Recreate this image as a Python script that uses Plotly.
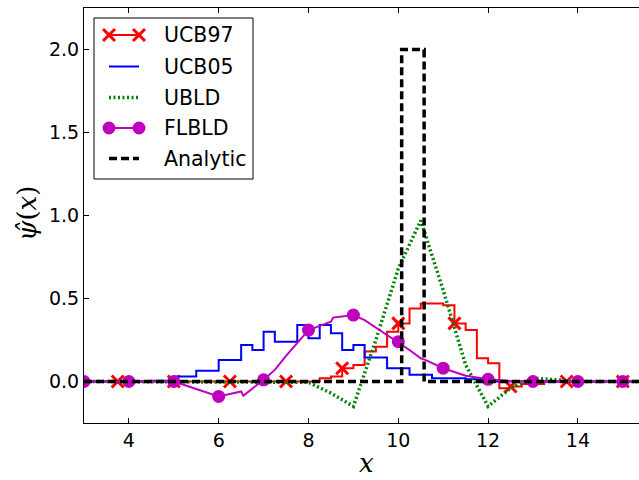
import numpy as np
import plotly.graph_objects as go

# Cell-centred grid (dx = 0.25) shared by the two step schemes
CELL_X = np.arange(3.0, 15.5001, 0.25)

UCB97 = [0.0, 0.0, 0.0, 0.0, 0.0, 0.0, 0.0, 0.0, 0.0, 0.0,
         0.0, 0.0, 0.0, 0.0, 0.0, 0.0, 0.0, 0.0, 0.0, 0.0,
         0.0, 0.02, 0.03, 0.08, 0.10, 0.18, 0.21, 0.30, 0.35, 0.44,
         0.47, 0.47, 0.46, 0.35, 0.31, 0.14, 0.11, -0.04, -0.03, -0.015,
         -0.015, 0.0, 0.0, 0.0, 0.0, 0.0, 0.0, 0.0, 0.0, 0.0, 0.0]

UCB05 = [0.0, 0.0, 0.0, 0.0, 0.0, 0.0, 0.005, 0.005, 0.03, 0.03,
         0.065, 0.065, 0.13, 0.13, 0.22, 0.19, 0.30, 0.24, 0.24, 0.34,
         0.26, 0.34, 0.29, 0.19, 0.22, 0.145, 0.145, 0.08, 0.08, 0.04,
         0.04, 0.02, 0.02, 0.02, 0.013, 0.013, 0.0, 0.0, 0.0, 0.0,
         0.0, 0.0, 0.0, 0.0, 0.0, 0.0, 0.0, 0.0, 0.0, 0.0, 0.0]

UCB97_MARK_EVERY = 5
UCB97_MARK_START = 3

UBLD_X = [3.0, 7.5, 8.0, 8.5, 9.0, 9.5, 10.0, 10.5, 11.0, 11.5,
          12.0, 12.5, 13.0, 13.5, 14.0, 15.5]
UBLD_Y = [0.0, 0.0, -0.005, -0.07, -0.15, 0.25, 0.68, 0.97, 0.55, 0.10,
          -0.15, -0.04, 0.02, 0.01, 0.0, 0.0]

FLBLD_X = [3.0, 3.5, 4.0, 4.5, 5.0, 5.5, 6.0, 6.5, 6.55, 7.0,
           7.25, 7.5, 7.75, 8.0, 8.25, 8.5, 8.55, 8.75, 9.0, 9.25,
           9.5, 9.75, 10.0, 10.25, 10.5, 10.6, 11.0, 11.5, 12.0, 12.5,
           13.0, 14.0, 15.0, 15.5]
FLBLD_Y = [0.0, 0.0, 0.0, 0.0, 0.0, -0.045, -0.09, -0.06, -0.085, 0.01,
           0.07, 0.155, 0.23, 0.31, 0.335, 0.36, 0.385, 0.39, 0.40, 0.37,
           0.325, 0.28, 0.24, 0.19, 0.14, 0.13, 0.08, 0.035, 0.013, 0.003,
           0.0, 0.0, 0.0, 0.0]

ANALYTIC_X = [3.0, 10.075, 10.075, 10.575, 10.575, 15.5]
ANALYTIC_Y = [0.0, 0.0, 2.0, 2.0, 0.0, 0.0]

X_TICKS = [4, 6, 8, 10, 12, 14]
Y_TICKS = [0.0, 0.5, 1.0, 1.5, 2.0]

RED, BLUE, GREEN, MAGENTA, BLACK = "#ff0000", "#0000ff", "#008000", "#bf00bf", "#000000"
GREEN_DASH = "2px,2.5px"
BLACK_DASH = "8px,4px"

# Figure geometry (pixels)
W, H = 639, 480
ML, MR, MT, MB = 84, 0, 8, 57
PW, PH = W - ML - MR, H - MT - MB


def px(x):
    return (x - ML) / PW


def py(y):
    return (H - MB - y) / PH


fig = go.Figure()

fig.add_trace(go.Scatter(x=CELL_X, y=UCB97, mode="lines", line=dict(color=RED, width=2, shape="hv"),
                         showlegend=False, name="UCB97"))
fig.add_trace(go.Scatter(x=CELL_X[UCB97_MARK_START::UCB97_MARK_EVERY],
                         y=UCB97[UCB97_MARK_START::UCB97_MARK_EVERY], mode="markers",
                         marker=dict(symbol="x-thin", size=12, color=RED, opacity=1,
                                     line=dict(color=RED, width=3)),
                         showlegend=False, name="UCB97"))
fig.add_trace(go.Scatter(x=CELL_X, y=UCB05, mode="lines", line=dict(color=BLUE, width=2, shape="hv"),
                         showlegend=False, name="UCB05"))
fig.add_trace(go.Scatter(x=UBLD_X, y=UBLD_Y, mode="lines",
                         line=dict(color=GREEN, width=3.5, dash=GREEN_DASH),
                         showlegend=False, name="UBLD"))
flbld_sizes = [13 if float(v).is_integer() else 0 for v in FLBLD_X]
fig.add_trace(go.Scatter(x=FLBLD_X, y=FLBLD_Y, mode="lines+markers",
                         line=dict(color=MAGENTA, width=2),
                         marker=dict(size=flbld_sizes, color=MAGENTA, opacity=1, line=dict(width=0)),
                         showlegend=False, name="FLBLD"))
fig.add_trace(go.Scatter(x=ANALYTIC_X, y=ANALYTIC_Y, mode="lines",
                         line=dict(color=BLACK, width=3.5, dash=BLACK_DASH),
                         showlegend=False, name="Analytic"))

# Hand-built legend box (line samples with markers at both ends)
shapes = [dict(type="rect", xref="paper", yref="paper", x0=px(94), x1=px(253), y0=py(179), y1=py(18),
               line=dict(color="black", width=1), fillcolor="white", layer="above")]
annotations = []
legend_items = [
    ("UCB97", RED, 2, "solid", "x"),
    ("UCB05", BLUE, 2, "solid", None),
    ("UBLD", GREEN, 3.5, GREEN_DASH, None),
    ("FLBLD", MAGENTA, 2, "solid", "o"),
    ("Analytic", BLACK, 3.5, BLACK_DASH, None),
]
row_y = [35, 66.5, 97.5, 128, 158.5]
sx0, sx1, tx = 109, 139, 162
for (label, col, lw, dash, mk), yy in zip(legend_items, row_y):
    shapes.append(dict(type="line", xref="paper", yref="paper", x0=px(sx0), x1=px(sx1),
                       y0=py(yy), y1=py(yy), line=dict(color=col, width=lw, dash=dash), layer="above"))
    for cx in (sx0, sx1):
        if mk == "x":
            r = 6
            for d in (1, -1):
                shapes.append(dict(type="line", xref="paper", yref="paper",
                                   x0=px(cx - r), x1=px(cx + r), y0=py(yy - d * r), y1=py(yy + d * r),
                                   line=dict(color=col, width=3), layer="above"))
        elif mk == "o":
            r = 6.5
            shapes.append(dict(type="circle", xref="paper", yref="paper",
                               x0=px(cx - r), x1=px(cx + r), y0=py(yy + r), y1=py(yy - r),
                               fillcolor=col, line=dict(width=0), layer="above"))
    annotations.append(dict(text=label, xref="paper", yref="paper", x=px(tx), y=py(yy),
                            xanchor="left", yanchor="middle", showarrow=False,
                            font=dict(family="DejaVu Sans", size=20.5, color="black")))

# Axis titles
annotations.append(dict(text="<i>x</i>", xref="paper", yref="paper", x=px(366), y=py(463),
                        xanchor="center", yanchor="middle", showarrow=False,
                        font=dict(family="DejaVu Serif", size=26, color="black")))
annotations.append(dict(text="<i>ψ\u0302</i>(<i>x</i>)", xref="paper", yref="paper", x=px(27), y=py(214),
                        xanchor="center", yanchor="middle", showarrow=False, textangle=-90,
                        font=dict(family="DejaVu Serif", size=26, color="black")))

axis_common = dict(showgrid=False, zeroline=False, showline=True, linecolor="black", linewidth=1,
                   ticks="inside", ticklen=5, tickwidth=1, tickcolor="black",
                   tickfont=dict(family="DejaVu Sans", size=19, color="black"))

fig.update_layout(
    width=W, height=H,
    margin=dict(l=ML, r=MR, t=MT, b=MB, pad=0),
    paper_bgcolor="white", plot_bgcolor="white",
    showlegend=False,
    shapes=shapes, annotations=annotations,
    xaxis=dict(range=[3, 3 + PW / 44.9], tickvals=X_TICKS, mirror="ticks", **axis_common),
    yaxis=dict(range=[-0.25, 2.25], tickvals=Y_TICKS, tickformat=".1f", mirror=False, **axis_common),
)

fig.write_html("out.html")
